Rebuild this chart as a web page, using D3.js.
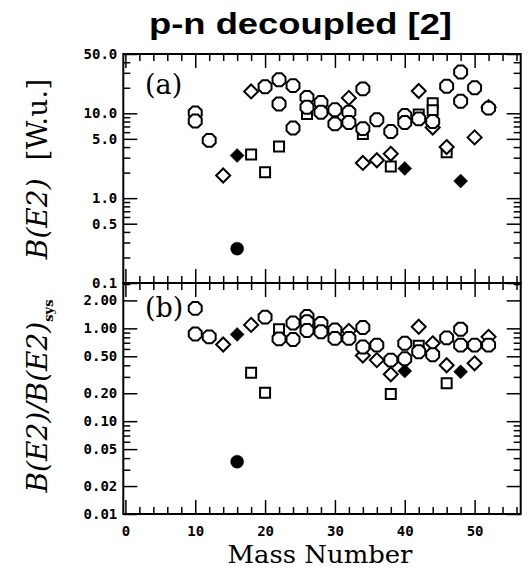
<!DOCTYPE html>
<html>
<head>
<meta charset="utf-8">
<script src="https://cdn.jsdelivr.net/npm/d3@7"></script>
<style>
    body { margin: 0; background: #fff; }
    .tick text { font-family: "DejaVu Sans Mono", monospace; font-weight: bold; font-size: 14px; fill: #000; }
    .tick line { stroke: #000; stroke-width: 1.5; }
    .serif { font-family: "DejaVu Serif", serif; fill: #000; }
</style>
</head>
<body>
<svg id="chart" width="531" height="569"></svg>
<script>
// mass number ticks
const xMajor = [0, 10, 20, 30, 40, 50];
const xMinor = [2, 4, 6, 8, 12, 14, 16, 18, 22, 24, 26, 28, 32, 34, 36, 38, 42, 44, 46, 48, 52, 54, 56];

// panel (a) ticks, B(E2) in W.u.
const aMajor = [0.1, 0.5, 1, 5, 10, 50];
const aMinor = [0.2, 0.3, 0.4, 0.6, 0.7, 0.8, 0.9, 2, 3, 4, 6, 7, 8, 9, 20, 30, 40];

// panel (b) ticks, ratio to systematics
const bMajor = [0.01, 0.02, 0.05, 0.1, 0.2, 0.5, 1, 2];
const bMinor = [0.03, 0.04, 0.06, 0.07, 0.08, 0.09, 0.3, 0.4, 0.6, 0.7, 0.8, 0.9, 3];

// panel (a) points: [A, B(E2)]
const aOctagon = [[10, 10.1], [10, 8.1], [12, 4.8], [20, 20.6], [22, 24.8], [22, 12.9], [24, 21.2], [24, 6.7],
    [26, 15.4], [26, 11.8], [28, 13.4], [28, 10.3], [30, 11.0], [30, 7.5], [32, 10.3], [32, 7.8], [34, 19.4],
    [34, 6.6], [36, 8.4], [38, 6.1], [40, 9.4], [40, 7.8], [42, 8.6], [44, 8.0], [46, 20.8], [48, 30.7],
    [48, 13.9], [50, 20.0], [52, 11.5]];
const aSquare = [[18, 3.27], [20, 2.02], [22, 4.06], [26, 9.8], [34, 5.7], [38, 2.36], [42, 9.7], [44, 13.1],
    [44, 10.9], [46, 3.47]];
const aDiamond = [[14, 1.85], [18, 18.1], [32, 15.2], [34, 2.6], [36, 2.8], [38, 3.33], [42, 18.3], [44, 6.8],
    [46, 4.0], [50, 5.2], [52, 11.8]];
const aDiamondFilled = [[16, 3.18], [40, 2.24], [48, 1.59]];
const aCircleFilled = [[16, 0.254]];

// panel (b) points: [A, B(E2)/B(E2)sys]
const bOctagon = [[10, 1.64], [10, 0.87], [12, 0.81], [20, 1.32], [22, 0.77], [24, 1.14], [24, 0.76],
    [26, 1.34], [26, 1.18], [26, 0.95], [28, 1.13], [28, 0.92], [30, 0.96], [30, 0.78], [32, 0.78], [34, 1.02],
    [34, 0.63], [36, 0.66], [38, 0.455], [40, 0.69], [40, 0.47], [42, 0.56], [44, 0.52], [46, 0.79],
    [48, 0.98], [48, 0.66], [50, 0.66], [52, 0.66]];
const bSquare = [[18, 0.333], [20, 0.203], [22, 0.98], [30, 0.92], [38, 0.196], [42, 0.65], [46, 0.256]];
const bDiamond = [[14, 0.67], [18, 1.09], [32, 0.94], [34, 0.51], [36, 0.455], [38, 0.32], [42, 1.04],
    [44, 0.69], [46, 0.40], [50, 0.42], [52, 0.81]];
const bDiamondFilled = [[16, 0.86], [32, 0.80], [40, 0.347], [48, 0.34]];
const bCircleFilled = [[16, 0.0366]];

const frame = { left: 123.3, right: 520.7, top: 54, mid: 283, bottom: 514 };

const svg = d3.select("#chart");

const x = d3.scaleLinear().domain([-0.3, 56.6]).range([frame.left, frame.right]);
const yA = d3.scaleLog().domain([0.1, 50]).range([frame.mid, frame.top]);
const yB = d3.scaleLog().domain([0.01, 3.08]).range([frame.bottom, frame.mid]);

function octagon(r) {
    const pts = d3.range(8).map(k => {
        const a = Math.PI / 8 + k * Math.PI / 4;
        return [r * Math.cos(a), r * Math.sin(a)];
    });
    return "M" + pts.map(p => p.join(",")).join("L") + "Z";
}
function diamond(r) {
    return `M0,${-r}L${r},0L0,${r}L${-r},0Z`;
}
function square(s) {
    const h = s / 2;
    return `M${-h},${-h}H${h}V${h}H${-h}Z`;
}
function circle(r) {
    return `M${r},0A${r},${r} 0 1,1 ${-r},0A${r},${r} 0 1,1 ${r},0Z`;
}

function drawPanel(y, top, bottom, majors, minors, fmt, showX) {
    const g = svg.append("g");

    const addAxis = (axis, tx, ty) => {
        const a = g.append("g").attr("transform", `translate(${tx},${ty})`).call(axis);
        a.select(".domain").remove();
        return a;
    };

    addAxis(d3.axisLeft(y).tickValues(majors).tickSize(-14).tickPadding(6).tickFormat(fmt), frame.left, 0);
    addAxis(d3.axisLeft(y).tickValues(minors).tickSize(-7).tickFormat(""), frame.left, 0);
    addAxis(d3.axisRight(y).tickValues(majors).tickSize(-14).tickFormat(""), frame.right, 0);
    addAxis(d3.axisRight(y).tickValues(minors).tickSize(-7).tickFormat(""), frame.right, 0);

    addAxis(d3.axisTop(x).tickValues(xMajor).tickSize(-14).tickFormat(""), 0, top);
    addAxis(d3.axisTop(x).tickValues(xMinor).tickSize(-7).tickFormat(""), 0, top);
    addAxis(d3.axisBottom(x).tickValues(xMajor).tickSize(-14).tickPadding(12)
        .tickFormat(showX ? d3.format("d") : ""), 0, bottom);
    addAxis(d3.axisBottom(x).tickValues(xMinor).tickSize(-7).tickFormat(""), 0, bottom);

    g.append("rect")
        .attr("x", frame.left).attr("y", top)
        .attr("width", frame.right - frame.left).attr("height", bottom - top)
        .attr("fill", "none").attr("stroke", "#000").attr("stroke-width", 2);

    return g;
}

function plot(g, y, data, d, filled) {
    g.append("g").selectAll("path")
        .data(data)
        .enter().append("path")
        .attr("transform", p => `translate(${x(p[0])},${y(p[1])})`)
        .attr("d", d)
        .attr("fill", filled ? "#000" : "#fff")
        .attr("stroke", "#000")
        .attr("stroke-width", filled ? 0.5 : 2);
}

const panelA = drawPanel(yA, frame.top, frame.mid, aMajor, aMinor, d3.format(".1f"), false);
const panelB = drawPanel(yB, frame.mid, frame.bottom, bMajor, bMinor, d3.format(".2f"), true);

[[panelA, yA, aDiamondFilled, aCircleFilled, aSquare, aDiamond, aOctagon],
 [panelB, yB, bDiamondFilled, bCircleFilled, bSquare, bDiamond, bOctagon]].forEach(([g, y, df, cf, sq, di, oc]) => {
    plot(g, y, df, diamond(7), true);
    plot(g, y, cf, circle(6.5), true);
    plot(g, y, sq, square(10), false);
    plot(g, y, di, diamond(7), false);
    plot(g, y, oc, octagon(7), false);
});

// title
svg.append("text")
    .attr("x", 300.5).attr("y", 34)
    .attr("text-anchor", "middle")
    .attr("textLength", 303).attr("lengthAdjust", "spacingAndGlyphs")
    .style("font-family", "'Liberation Sans', Arial, sans-serif")
    .style("font-weight", "bold").style("font-size", "29px")
    .text("p-n decoupled [2]");

// panel tags
svg.append("text").attr("class", "serif").attr("x", 145).attr("y", 94)
    .style("font-size", "27px").text("(a)");
svg.append("text").attr("class", "serif").attr("x", 145).attr("y", 317)
    .style("font-size", "27px").text("(b)");

// x label
svg.append("text").attr("class", "serif")
    .attr("x", 320).attr("y", 563)
    .attr("text-anchor", "middle")
    .attr("textLength", 185).attr("lengthAdjust", "spacingAndGlyphs")
    .style("font-size", "24px")
    .text("Mass Number");

// y labels
const yLabA = svg.append("text").attr("class", "serif")
    .attr("transform", "translate(47,169) rotate(-90)")
    .attr("text-anchor", "middle")
    .style("font-size", "28px");
yLabA.append("tspan").style("font-style", "italic").text("B(E2)");
yLabA.append("tspan").attr("dx", 18).text("[W.u.]");

const yLabB = svg.append("text").attr("class", "serif")
    .attr("transform", "translate(47,396) rotate(-90)")
    .attr("text-anchor", "middle")
    .style("font-size", "28px");
yLabB.append("tspan").style("font-style", "italic").text("B(E2)/B(E2)");
yLabB.append("tspan").attr("dy", 6).style("font-size", "13px").style("font-weight", "bold").text("sys");
</script>
</body>
</html>
